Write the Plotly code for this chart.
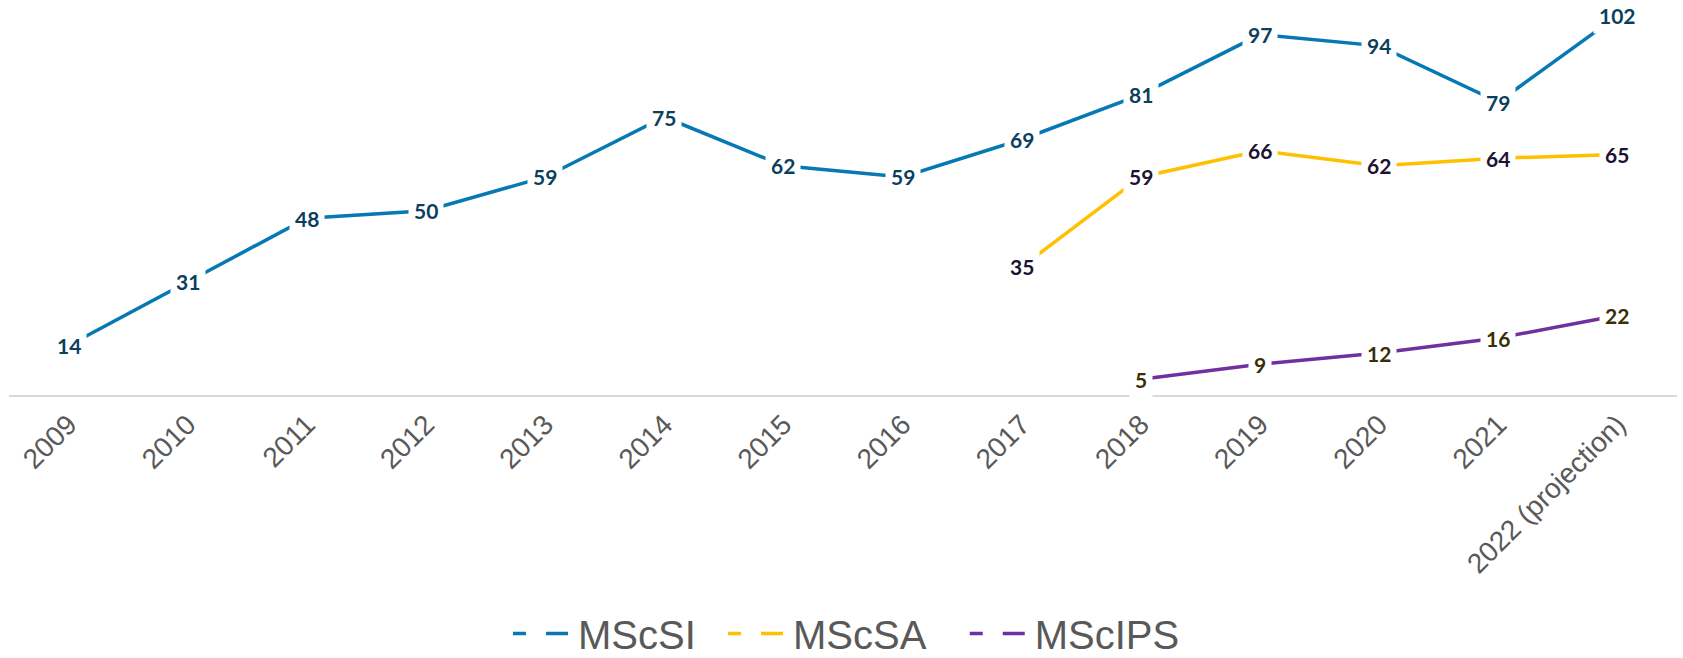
import plotly.graph_objects as go

years = ["2009", "2010", "2011", "2012", "2013", "2014", "2015", "2016",
         "2017", "2018", "2019", "2020", "2021", "2022 (projection)"]
mscsi = [14, 31, 48, 50, 59, 75, 62, 59, 69, 81, 97, 94, 79, 102]
mscsa = [None, None, None, None, None, None, None, None, 35, 59, 66, 62, 64, 65]
mscips = [None, None, None, None, None, None, None, None, None, 5, 9, 12, 16, 22]

NB = "\u00a0"
series = [
    ("MScSI", mscsi, "#0679B4", "#0B3F5E", NB * 2),
    ("MScSA", mscsa, "#FFC000", "#1C1333", NB * 3),
    ("MScIPS", mscips, "#7030A0", "#3A2E05", ""),
]

fig = go.Figure()
annotations = []
for name, vals, color, lblcolor, pad in series:
    fig.add_trace(go.Scatter(
        x=years, y=vals, mode="lines", name=name, showlegend=False,
        line=dict(color=color, width=3.5), connectgaps=False,
        hoverinfo="skip"))
    # legend-only dashed entry
    fig.add_trace(go.Scatter(
        x=[None], y=[None], mode="lines", name=name + pad, showlegend=True,
        line=dict(color=color, width=3.5, dash="13px,20px,22px,300px")))
    for i, v in enumerate(vals):
        if v is None:
            continue
        # category index on the category axis
        annotations.append(dict(
            x=i, y=v, xref="x", yref="y", text=str(v), showarrow=False,
            bgcolor="white", borderpad=5,
            font=dict(family="Lato, Carlito, sans-serif", size=21,
                      color=lblcolor, weight="bold")))

fig.update_layout(
    width=1683, height=658,
    margin=dict(l=9, r=6, t=5, b=263, autoexpand=False),
    paper_bgcolor="white", plot_bgcolor="white",
    annotations=annotations,
    showlegend=True,
    legend=dict(orientation="h", x=508 / 1683, xanchor="left", xref="container",
                y=0.0866, yanchor="top", yref="container",
                font=dict(family="Liberation Sans, Arial, sans-serif",
                          size=40, color="#595959"),
                itemwidth=60,
                bgcolor="rgba(0,0,0,0)"),
    xaxis=dict(type="category", range=[-0.5, 13.5], showgrid=False,
               showline=True, linecolor="#D9D9D9", linewidth=2,
               ticks="", tickangle=-45, automargin=False,
               tickfont=dict(family="Liberation Sans, Arial, sans-serif",
                             size=28, color="#595959"),
               zeroline=False, fixedrange=True),
    yaxis=dict(range=[0.8, 104.9], visible=False, showgrid=False,
               zeroline=False, fixedrange=True, automargin=False),
)

fig.write_html("out.html", config={"displayModeBar": False},
               post_script="document.body.style.margin='0';")
